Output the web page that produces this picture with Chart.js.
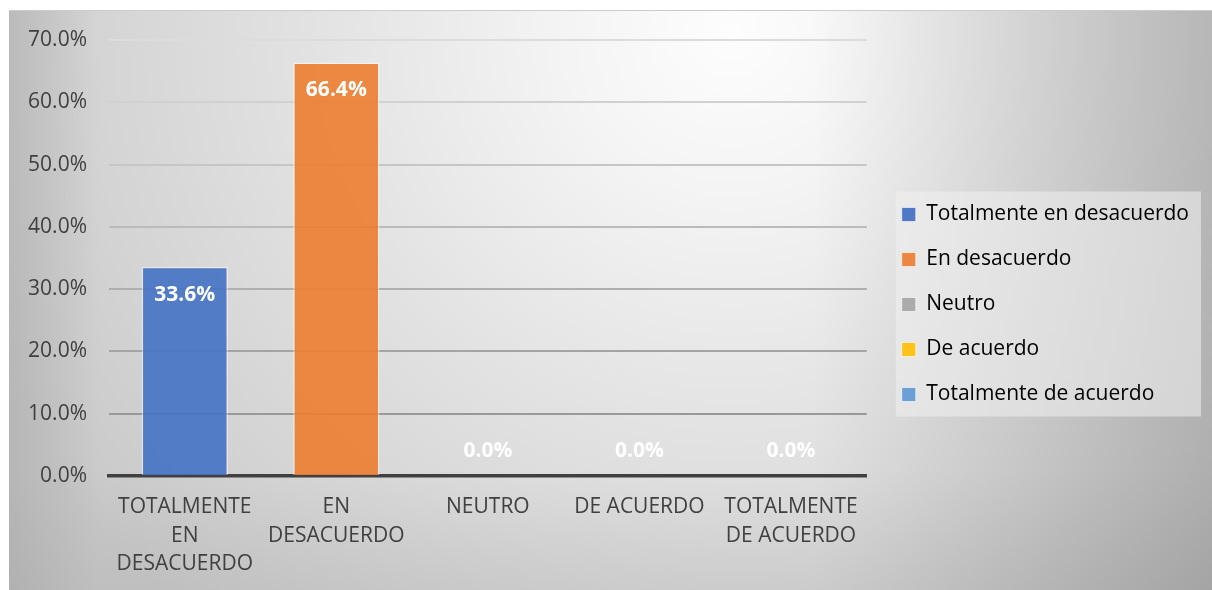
<!DOCTYPE html>
<html>
<head>
<meta charset="utf-8">
<script src="https://cdn.jsdelivr.net/npm/chart.js@4"></script>
<style>
  html, body { margin: 0; padding: 0; background: #fff; }
  #wrap {
    position: absolute; left: 9px; top: 10px; width: 1203px; height: 580px;
    box-shadow: inset 0 1px 0 #cccccc;
    background:
      linear-gradient(to right, rgba(150,150,150,0.35) 0px, rgba(150,150,150,0) 90px),
      linear-gradient(to left, rgba(100,100,100,0.32) 0px, rgba(100,100,100,0) 400px),
      linear-gradient(to top, rgba(150,150,150,0.18) 0px, rgba(150,150,150,0) 120px),
      radial-gradient(ellipse 68% 135% at 60% 4%, #fdfdfd 0%, #f4f4f4 20%, #e3e3e3 50%, #d3d3d3 80%, #c8c8c8 100%);
  }
  canvas { display: block; }
</style>
</head>
<body>
<div id="wrap"><canvas id="surveyChart" width="1203" height="580"></canvas></div>
<script>
const categories = [
  ['TOTALMENTE', 'EN', 'DESACUERDO'],
  ['EN', 'DESACUERDO'],
  'NEUTRO',
  'DE ACUERDO',
  ['TOTALMENTE', 'DE ACUERDO'],
];
const legendNames = ['Totalmente en desacuerdo', 'En desacuerdo', 'Neutro', 'De acuerdo', 'Totalmente de acuerdo'];
const percentages = [33.6, 66.4, 0, 0, 0];
const barColors = ['rgba(68,114,196,0.9)', 'rgba(237,125,49,0.9)', 'rgba(165,165,165,0.9)', 'rgba(255,192,0,0.9)', 'rgba(91,155,213,0.9)'];
const legendColors = ['#4f78c6', '#ec8743', '#ababab', '#fdc31b', '#6aa0d5'];
const yTicks = [0, 10, 20, 30, 40, 50, 60, 70];

const FONT = "'Open Sans', 'Noto Sans', sans-serif";
const TEXT = '#404040';

// gridlines get darker toward the bottom of the plot
function gridShade(v) {
  const t = v / 70;
  const g = Math.round(0x8e + (0xdc - 0x8e) * t);
  return `rgb(${g},${g},${g})`;
}

const legendBackground = {
  id: 'legendBackground',
  beforeDraw(chart) {
    const boxes = chart.legend.legendHitBoxes;
    if (!boxes || !boxes.length) return;
    const first = boxes[0];
    const last = boxes[boxes.length - 1];
    const left = Math.min(...boxes.map((b) => b.left)) - 6;
    const right = Math.max(...boxes.map((b) => b.left + b.width)) + 12;
    const top = first.top + first.height / 2 - 23;
    const bottom = last.top + last.height / 2 + 22;
    const ctx = chart.ctx;
    ctx.save();
    ctx.fillStyle = 'rgba(240,240,240,0.55)';
    ctx.fillRect(left, top, right - left, bottom - top);
    ctx.restore();
  },
};

const barValueLabels = {
  id: 'barValueLabels',
  afterDatasetsDraw(chart) {
    const ctx = chart.ctx;
    const meta = chart.getDatasetMeta(0);
    ctx.save();
    ctx.font = `bold 21px ${FONT}`;
    ctx.fillStyle = '#ffffff';
    ctx.textAlign = 'center';
    ctx.textBaseline = 'middle';
    meta.data.forEach((bar, i) => {
      const v = percentages[i];
      const y = v > 0 ? bar.y + 28 : bar.base - 25;
      ctx.fillText(v.toFixed(1) + '%', bar.x, y);
    });
    ctx.restore();
  },
};

new Chart(document.getElementById('surveyChart'), {
  type: 'bar',
  data: {
    labels: categories,
    datasets: [{
      data: percentages,
      backgroundColor: barColors,
      borderColor: 'rgba(255,255,255,0.45)',
      borderWidth: 1.5,
      barPercentage: 0.57,
      categoryPercentage: 1,
    }],
  },
  options: {
    responsive: false,
    animation: false,
    layout: { padding: { top: 9, left: 0, right: 13, bottom: 0 } },
    plugins: {
      tooltip: { enabled: false },
      legend: {
        position: 'right',
        maxWidth: 400,
        labels: {
          font: { family: FONT, size: 21 },
          color: TEXT,
          boxWidth: 14,
          boxHeight: 14,
          padding: 24,
          generateLabels: () => legendNames.map((name, i) => ({
            text: name,
            fillStyle: legendColors[i],
            strokeStyle: 'rgba(255,255,255,0.6)',
            lineWidth: 1,
            index: i,
          })),
        },
      },
    },
    scales: {
      x: {
        grid: { display: false, drawTicks: false },
        border: { color: '#404040', width: 3.5 },
        ticks: {
          color: TEXT,
          font: { family: FONT, size: 21, lineHeight: 1.36 },
          padding: 17,
          maxRotation: 0,
          autoSkip: false,
        },
        afterFit: (s) => { s.height = 114; },
      },
      y: {
        min: 0,
        max: 70,
        afterBuildTicks: (axis) => { axis.ticks = yTicks.map((v) => ({ value: v })); },
        grid: {
          drawTicks: false,
          lineWidth: 2,
          color: (c) => (c.tick ? gridShade(c.tick.value) : '#cccccc'),
        },
        border: { display: false },
        ticks: {
          color: TEXT,
          font: { family: FONT, size: 21 },
          padding: 22,
          callback: (v) => Number(v).toFixed(1) + '%',
        },
        afterFit: (s) => {
          s.width = 100;
          s.paddingTop = 0;
          s.paddingBottom = 0;
        },
      },
      // empty scales that only reserve space above and to the right of the plot
      topGap: {
        type: 'linear',
        position: 'top',
        ticks: { display: false },
        grid: { display: false },
        border: { display: false },
        afterFit: (s) => { s.height = 21; },
      },
      rightGap: {
        type: 'linear',
        position: 'right',
        ticks: { display: false },
        grid: { display: false },
        border: { display: false },
        afterFit: (s) => { s.width = 11; },
      },
    },
  },
  plugins: [legendBackground, barValueLabels],
});
</script>
</body>
</html>
